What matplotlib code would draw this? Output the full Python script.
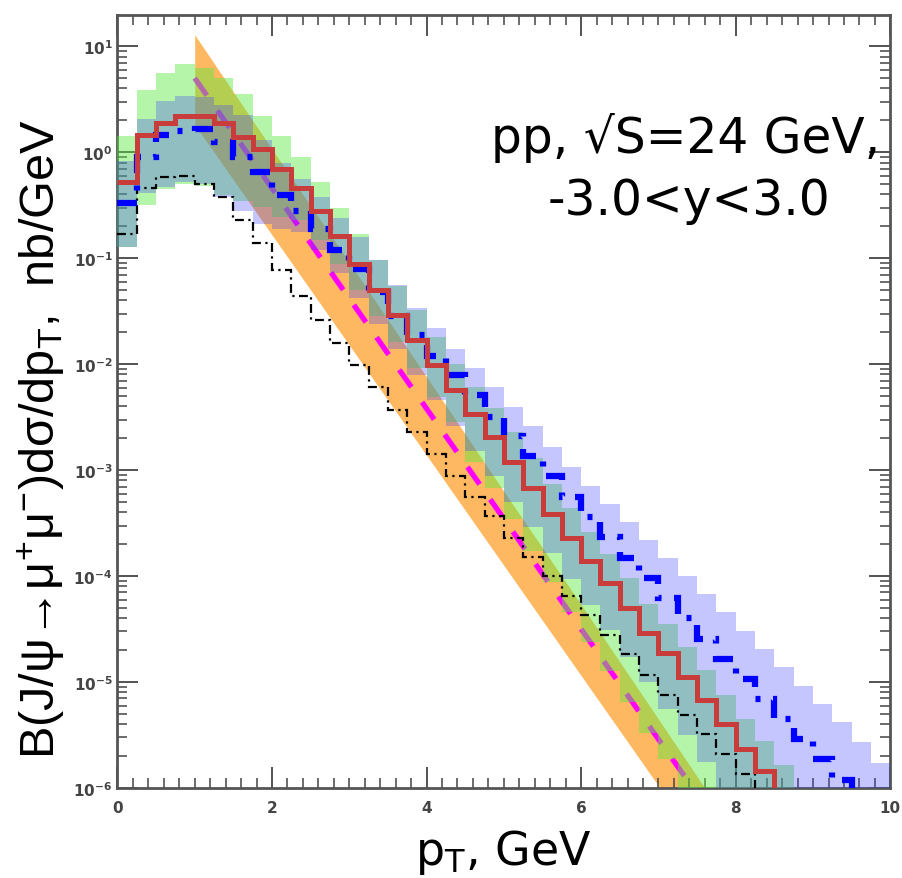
import numpy as np
import matplotlib
matplotlib.use("Agg")
import matplotlib.pyplot as plt
from matplotlib.ticker import MultipleLocator, LogLocator, NullFormatter

plt.rcParams['mathtext.default'] = 'regular'

# bin edges of the histograms, GeV
edges = np.linspace(0.0, 10.0, 41)

# log10 of dsigma/dpT per 0.25 GeV bin
red_log = [-0.28, 0.16, 0.28, 0.34, 0.34, 0.28, 0.14, 0.03, -0.16, -0.34,
           -0.55, -0.79, -1.05, -1.30, -1.54, -1.77, -2.01, -2.24, -2.47, -2.69,
           -2.92, -3.17, -3.41, -3.64, -3.86, -4.07, -4.30, -4.54, -4.73, -4.95,
           -5.17, -5.40, -5.63, -5.84, -6.5, -6.5, -6.5, -6.5, -6.5, -6.5]
blue_log = [-0.48, -0.04, 0.16, 0.20, 0.22, 0.10, -0.04, -0.19, -0.40, -0.55,
            -0.72, -0.92, -1.10, -1.32, -1.55, -1.72, -1.92, -2.10, -2.29, -2.50,
            -2.68, -2.87, -3.06, -3.25, -3.44, -3.63, -3.83, -4.02, -4.21, -4.40,
            -4.59, -4.78, -4.97, -5.16, -5.35, -5.54, -5.73, -5.92, -6.08, -6.5]
black_log = [-0.77, -0.34, -0.23, -0.22, -0.30, -0.42, -0.64, -0.86, -1.11, -1.36,
             -1.58, -1.80, -2.01, -2.22, -2.43, -2.64, -2.85, -3.06, -3.25, -3.43,
             -3.64, -3.82, -4.00, -4.19, -4.37, -4.56, -4.74, -4.93, -5.12, -5.31,
             -5.49, -5.68, -5.87, -6.05, -6.5, -6.5, -6.5, -6.5, -6.5, -6.5]

# uncertainty bands (log10), per bin
green_hi = [0.15, 0.59, 0.75, 0.83, 0.80, 0.70, 0.55, 0.34, 0.15, -0.04,
            -0.28, -0.53, -0.77, -1.02, -1.26, -1.49, -1.74, -2.00, -2.22, -2.41,
            -2.64, -2.89, -3.13, -3.36, -3.58, -3.79, -4.02, -4.26, -4.45, -4.67,
            -4.89, -5.12, -5.35, -5.56, -5.78, -6.0, -6.5, -6.5, -6.5, -6.5]
green_lo = [-0.89, -0.50, -0.35, -0.30, -0.32, -0.40, -0.46, -0.52, -0.61, -0.64,
            -0.83, -1.05, -1.30, -1.55, -1.79, -2.04, -2.31, -2.55, -2.92, -3.17,
            -3.46, -3.76, -4.06, -4.34, -4.62, -4.90, -5.19, -5.48, -5.73, -6.0,
            -6.5, -6.5, -6.5, -6.5, -6.5, -6.5, -6.5, -6.5, -6.5, -6.5]
blue_hi = [-0.08, 0.31, 0.48, 0.53, 0.52, 0.45, 0.35, 0.12, -0.10, -0.25,
           -0.42, -0.62, -0.80, -1.02, -1.25, -1.47, -1.66, -1.86, -2.04, -2.22,
           -2.40, -2.58, -2.78, -2.97, -3.15, -3.32, -3.49, -3.66, -3.83, -4.00,
           -4.17, -4.34, -4.52, -4.69, -4.86, -5.04, -5.21, -5.38, -5.57, -5.76]
blue_lo = [-0.89, -0.38, -0.33, -0.28, -0.30, -0.42, -0.55, -0.68, -0.72, -0.75,
           -0.92, -1.14, -1.38, -1.62, -1.86, -2.10, -2.34, -2.58, -2.82, -3.06,
           -3.30, -3.54, -3.78, -4.03, -4.27, -4.51, -4.76, -5.00, -5.25, -5.50,
           -5.75, -6.00, -6.5, -6.5, -6.5, -6.5, -6.5, -6.5, -6.5, -6.5]

# smooth curve and its band (log10)
smooth_x = [1.0, 2.0, 3.0, 4.0, 5.0, 6.0, 7.0, 7.6]
magenta_log = [0.70, -0.34, -1.38, -2.42, -3.46, -4.50, -5.54, -6.16]
orange_hi = [1.11, 0.03, -1.04, -2.12, -3.20, -4.27, -5.35, -6.0]
orange_lo = [0.26, -0.78, -1.82, -2.86, -3.90, -4.94, -5.98, -6.6]


def v(a):
    return 10.0 ** np.asarray(a)


fig = plt.figure(figsize=(9.03, 8.79), dpi=100)
ax = fig.add_axes([0.130, 0.1024, 0.856, 0.879])
ax.set_yscale('log')

ax.fill_between(smooth_x, v(orange_lo), v(orange_hi), color='#ffb862', lw=0, zorder=1)
ax.plot(smooth_x, v(magenta_log), color='#ff00ff', lw=3.8, dashes=(4, 3.5), zorder=2)
ax.stairs(v(green_hi), edges, baseline=v(green_lo), fill=True,
          color=(0.35, 0.92, 0.25), alpha=0.45, lw=0, zorder=3)
ax.stairs(v(blue_hi), edges, baseline=v(blue_lo), fill=True,
          color=(0.24, 0.24, 1.0), alpha=0.29, lw=0, zorder=4)

ax.stairs(v(black_log), edges, baseline=None, color='black', lw=1.6,
          linestyle=(0, (4, 2, 1, 2)), zorder=5)
ax.stairs(v(blue_log), edges, baseline=None, color='#0000ff', lw=4.5,
          linestyle=(0, (3.2, 2.0, 0.8, 2.0)), zorder=6)
ax.stairs(v(red_log), edges, baseline=None, color='#c83c3c', lw=3.6, zorder=7)

ax.set_xlim(0, 10)
ax.set_ylim(1e-6, 19.6)

ax.xaxis.set_major_locator(MultipleLocator(2))
ax.xaxis.set_minor_locator(MultipleLocator(0.2))
ax.yaxis.set_major_locator(LogLocator(base=10, numticks=20))
ax.yaxis.set_minor_locator(LogLocator(base=10, subs=np.arange(2, 10), numticks=20))
ax.yaxis.set_minor_formatter(NullFormatter())

ax.tick_params(which='both', direction='in', top=True, right=True,
               colors='#444444', labelsize=11)
ax.tick_params(which='major', length=15, width=1.3)
ax.tick_params(which='minor', length=7, width=1.1)
ax.tick_params(axis='x', which='major', pad=9)
for lab in ax.get_xticklabels() + ax.get_yticklabels():
    lab.set_fontweight('bold')
    lab.set_family('DejaVu Sans')
for sp in ax.spines.values():
    sp.set_color('#555555')
    sp.set_linewidth(2)

fig.text(0.046, 0.50, 'B(J/\u03c8\u2192\u03bc$^{+}$\u03bc$^{-}$)d\u03c3/dp$_{T}$,  nb/GeV',
         rotation=90, ha='center', va='center', fontsize=35,
         family=['Liberation Sans', 'DejaVu Sans'])
fig.text(0.557, 0.030, 'p$_{T}$, GeV', ha='center', va='center', fontsize=33,
         family='DejaVu Sans')

fig.text(880 / 903, 1 - 153 / 879, 'pp, \u221aS=24 GeV,', ha='right', va='baseline',
         fontsize=35, family='DejaVu Sans')
fig.text(830 / 903, 1 - 215 / 879, '-3.0<y<3.0', ha='right', va='baseline',
         fontsize=35, family='DejaVu Sans')

fig.savefig('out.png', dpi=100)
